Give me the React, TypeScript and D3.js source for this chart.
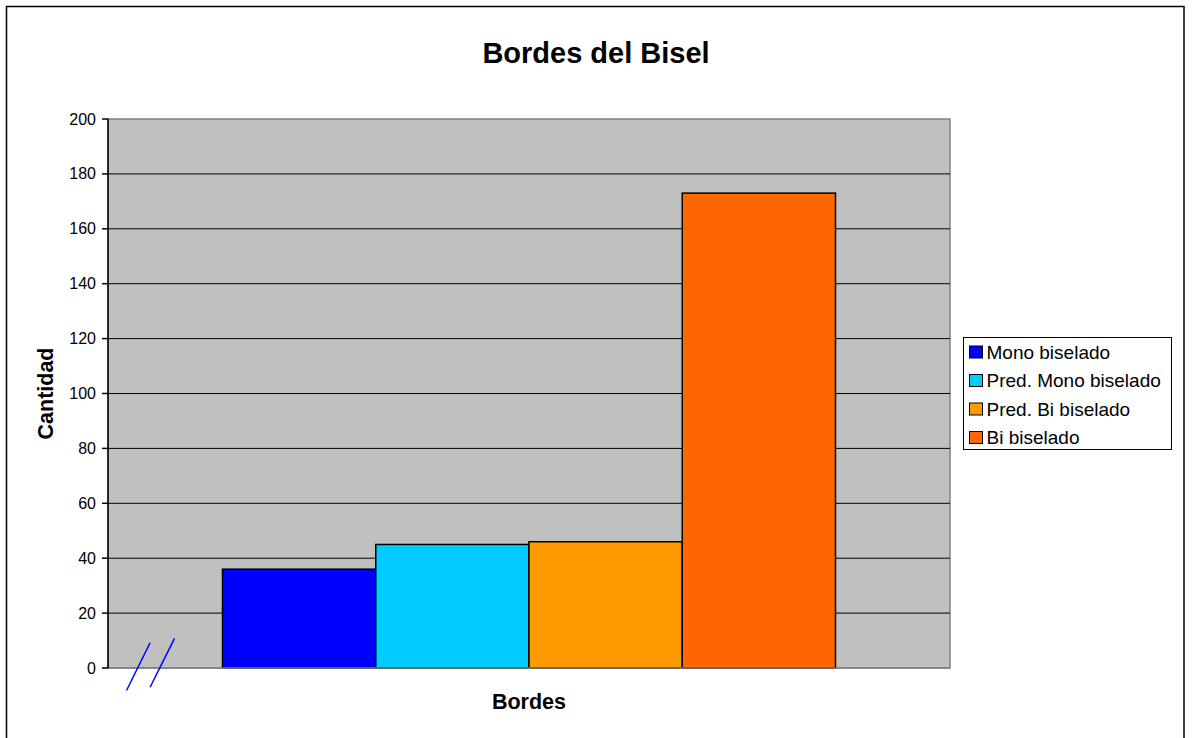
import React from "react";
import * as d3 from "d3";

const title = "Bordes del Bisel";
const categories = ["Bordes"];
const seriesNames = ["Mono biselado", "Pred. Mono biselado", "Pred. Bi biselado", "Bi biselado"];
const seriesValues = [36, 45, 46, 173];
const seriesColors = ["#0000FF", "#00CCFF", "#FF9900", "#FF6600"];
const yTicks = [0, 20, 40, 60, 80, 100, 120, 140, 160, 180, 200];
const yLabel = "Cantidad";
const xLabel = "Bordes";

const W = 1192;
const H = 738;
const plot = { left: 108, right: 950, top: 119, bottom: 668 };

export default function App() {
  const y = d3.scaleLinear().domain([0, 200]).range([plot.bottom, plot.top]);
  const x0 = d3
    .scaleBand<string>()
    .domain(categories)
    .range([plot.left, plot.right])
    .paddingInner(0)
    .paddingOuter(0.1868);
  const x1 = d3
    .scaleBand<string>()
    .domain(seriesNames)
    .range([0, x0.bandwidth()])
    .padding(0);

  const fontFamily = "Arial, 'Liberation Sans', Helvetica, sans-serif";
  const pw = plot.right - plot.left;
  const ph = plot.bottom - plot.top;

  // decorative axis-break slashes, positioned relative to the plot
  const slashes = [
    [0.022, 1.041, 0.05, 0.954],
    [0.05, 1.035, 0.079, 0.946],
  ];

  const legend = { x: 963.5, y: 337.5, w: 208, h: 112, row: 28.5 };

  return (
    <svg
      width={W}
      height={H}
      style={{ position: "absolute", left: 0, top: 0, display: "block", background: "#fff" }}
      fontFamily={fontFamily}
    >
      <rect x={6.5} y={6.5} width={1177.5} height={H + 20} fill="#fff" stroke="#000" strokeWidth={1.5} />
      <text x={596} y={63} textAnchor="middle" fontSize={29} fontWeight="bold" fill="#000">
        {title}
      </text>

      <rect x={plot.left} y={plot.top} width={pw} height={ph} fill="#C0C0C0" stroke="#808080" strokeWidth={1.5} />
      {yTicks
        .filter((t) => t !== 0 && t !== 200)
        .map((t) => (
          <line key={"g" + t} x1={plot.left} x2={plot.right} y1={y(t)} y2={y(t)} stroke="#000" strokeWidth={1} />
        ))}

      {seriesNames.map((s, i) =>
        categories.map((c) => (
          <rect
            key={s + c}
            x={(x0(c) ?? 0) + (x1(s) ?? 0)}
            y={y(seriesValues[i])}
            width={x1.bandwidth()}
            height={plot.bottom - y(seriesValues[i])}
            fill={seriesColors[i]}
            stroke="#000"
            strokeWidth={1.5}
          />
        ))
      )}

      <line x1={plot.left} x2={plot.right} y1={plot.bottom} y2={plot.bottom} stroke="#808080" strokeWidth={1.5} />
      <line x1={plot.left} x2={plot.left} y1={plot.top} y2={plot.bottom} stroke="#000" strokeWidth={1.5} />
      {yTicks.map((t) => (
        <g key={"t" + t}>
          <line x1={plot.left - 6} x2={plot.left} y1={y(t)} y2={y(t)} stroke="#000" strokeWidth={1.5} />
          <text x={96} y={y(t) + 5.5} textAnchor="end" fontSize={16} fill="#000">
            {t}
          </text>
        </g>
      ))}

      {slashes.map((s, i) => (
        <line
          key={"s" + i}
          x1={plot.left + s[0] * pw}
          y1={plot.top + s[1] * ph}
          x2={plot.left + s[2] * pw}
          y2={plot.top + s[3] * ph}
          stroke="#0000FF"
          strokeWidth={1.5}
        />
      ))}

      <text
        transform={`translate(53, ${(plot.top + plot.bottom) / 2}) rotate(-90)`}
        textAnchor="middle"
        fontSize={21.5}
        fontWeight="bold"
        fill="#000"
      >
        {yLabel}
      </text>
      <text x={529} y={709} textAnchor="middle" fontSize={21.5} fontWeight="bold" fill="#000">
        {xLabel}
      </text>

      <rect x={legend.x} y={legend.y} width={legend.w} height={legend.h} fill="#fff" stroke="#000" strokeWidth={1} />
      {seriesNames.map((s, i) => {
        const cy = 352 + i * legend.row;
        return (
          <g key={"l" + s}>
            <rect x={969.5} y={cy - 6} width={13} height={12} fill={seriesColors[i]} stroke="#000" strokeWidth={1} />
            <text x={986.5} y={cy + 6.5} fontSize={19} fill="#000">
              {s}
            </text>
          </g>
        );
      })}
    </svg>
  );
}
